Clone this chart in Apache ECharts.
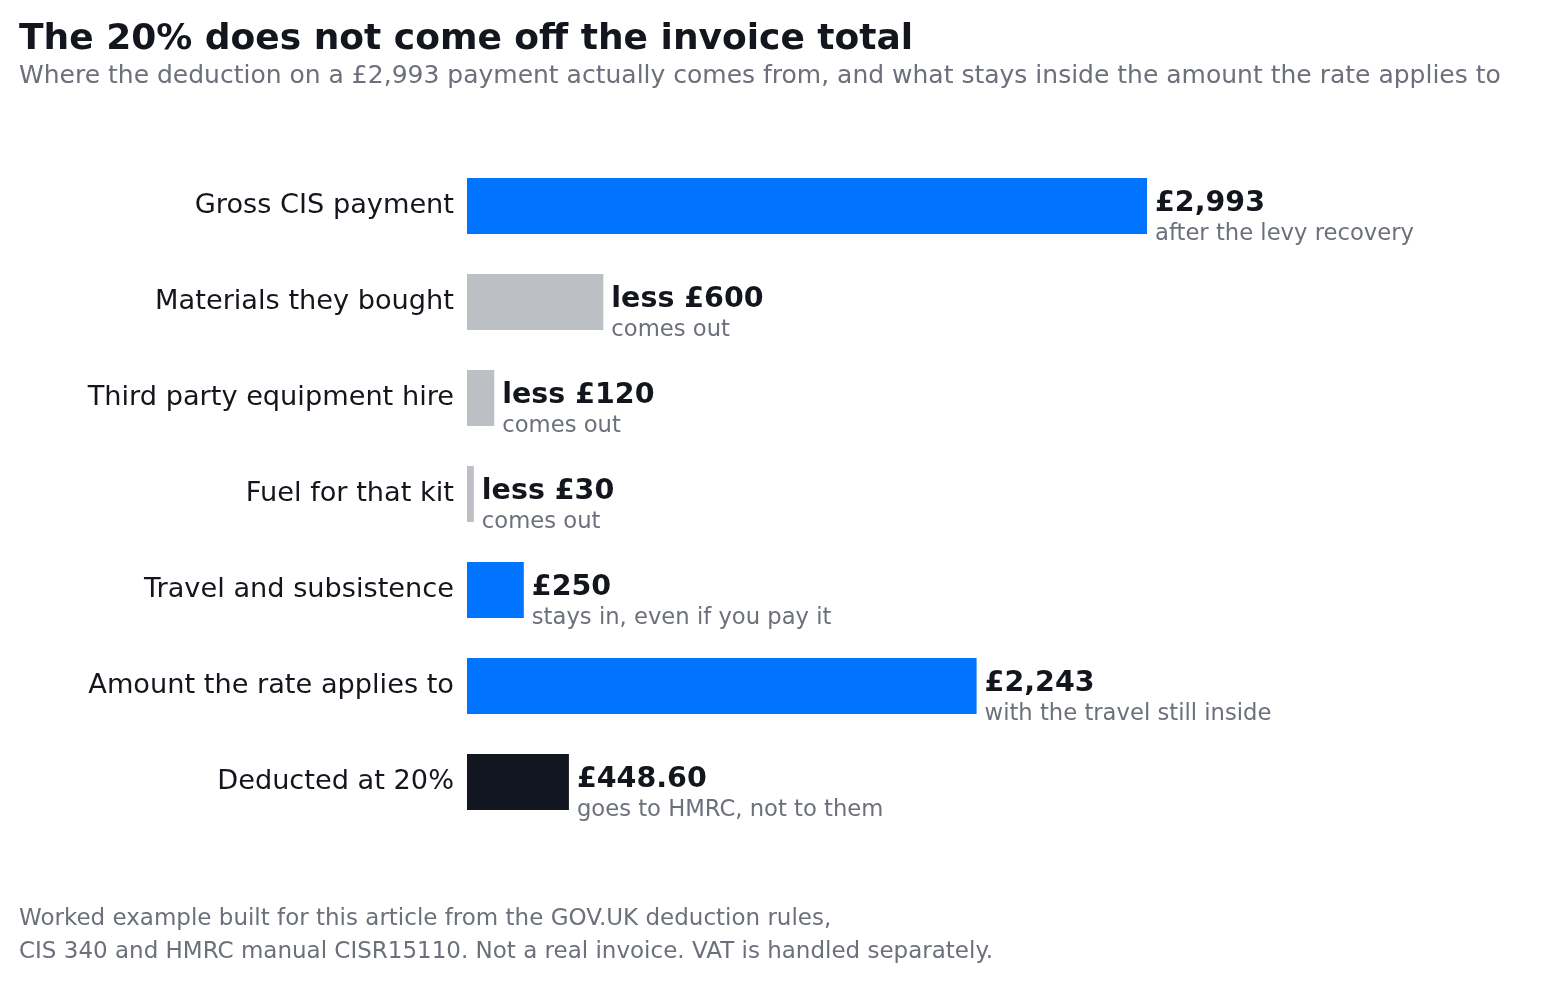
<!DOCTYPE html>
<html><head><meta charset="utf-8">
<script src="https://cdn.jsdelivr.net/npm/echarts@6/dist/echarts.min.js"></script>
<style>html,body{margin:0;padding:0;background:#fff}#c{width:1558px;height:988px}</style>
</head><body><div id="c"></div>
<script>
const categories = ["Gross CIS payment","Materials they bought","Third party equipment hire","Fuel for that kit","Travel and subsistence","Amount the rate applies to","Deducted at 20%"];
const values = [2993, 600, 120, 30, 250, 2243, 448.60];
const valueLabels = ["£2,993","less £600","less £120","less £30","£250","£2,243","£448.60"];
const notes = ["after the levy recovery","comes out","comes out","comes out","stays in, even if you pay it","with the travel still inside","goes to HMRC, not to them"];
const kinds = ["in","out","out","out","in","in","deducted"];

const kindColor = {in:"#0073ff", out:"#bcbfc4", deducted:"#121620"};
const FONT = "DejaVu Sans";
const chart = echarts.init(document.getElementById('c'), null, {renderer:'canvas'});
chart.setOption({
  backgroundColor:'#ffffff',
  animation:false,
  textStyle:{fontFamily:FONT},
  title:[{
    text:"The 20% does not come off the invoice total",
    subtext:"Where the deduction on a £2,993 payment actually comes from, and what stays inside the amount the rate applies to",
    left:19, top:22, padding:0, itemGap:6,
    textStyle:{fontFamily:FONT,fontSize:36,fontWeight:'bold',color:'#14161d'},
    subtextStyle:{fontFamily:FONT,fontSize:25,color:'#6c707b'}
  },{
    text:"Worked example built for this article from the GOV.UK deduction rules,\nCIS 340 and HMRC manual CISR15110. Not a real invoice. VAT is handled separately.",
    left:19, top:903, padding:0,
    textStyle:{fontFamily:FONT,fontSize:23,fontWeight:'normal',color:'#6c707b',lineHeight:33}
  }],
  grid:{left:467, top:158, width:681.6, height:672, containLabel:false},
  xAxis:{type:'value', min:0, max:3000, show:false},
  yAxis:{type:'category', data:categories, inverse:true,
    axisLine:{show:false}, axisTick:{show:false},
    axisLabel:{fontFamily:FONT,fontSize:27.2,color:'#14161d',margin:13}},
  series:[{
    type:'bar', barWidth:56,
    data: values.map((v,i)=>({value:v, itemStyle:{color:kindColor[kinds[i]]}})),
    label:{show:true, position:'right', distance:8, offset:[0,12],
      formatter:p=>'{v|'+valueLabels[p.dataIndex]+'}\n{n|'+notes[p.dataIndex]+'}',
      rich:{
        v:{fontFamily:FONT,fontSize:28.5,fontWeight:'bold',color:'#14161d',lineHeight:33},
        n:{fontFamily:FONT,fontSize:22.7,color:'#6c707b',lineHeight:29}
      }}
  }]
});
</script></body></html>
